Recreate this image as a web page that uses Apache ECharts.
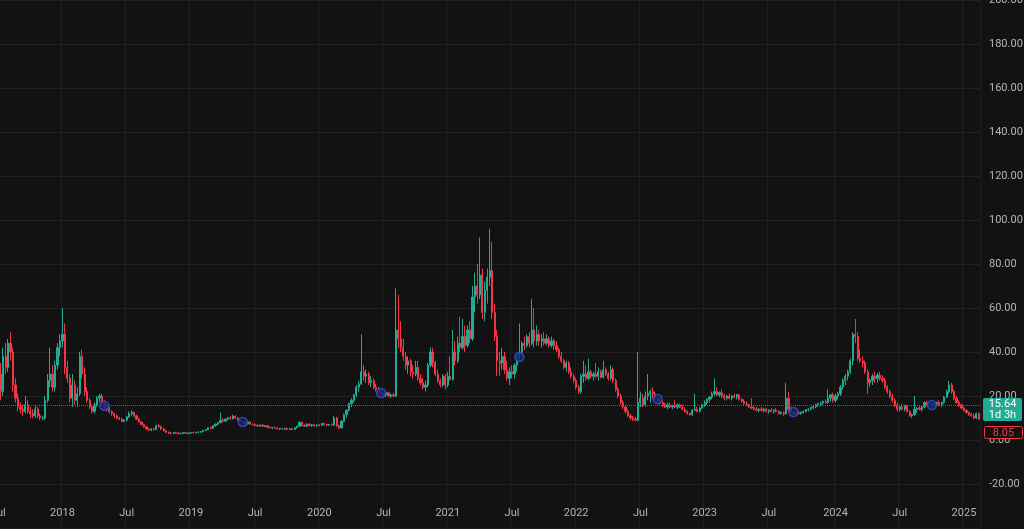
<!DOCTYPE html>
<html><head><meta charset="utf-8">
<script src="https://cdn.jsdelivr.net/npm/echarts/dist/echarts.min.js"></script>
<style>html,body{margin:0;padding:0;background:#121212;overflow:hidden}#c{width:1024px;height:529px}</style>
</head><body><div id="c"></div>
<script>
// ---- data: weekly candles [open, high, low, close], first week starts 2017-07-03 ----
const firstWeek = '2017-07-03';
const xTickLabels = [
  ['2017-07-03','Jul'],['2018-01-01','2018'],['2018-07-02','Jul'],['2018-12-31','2019'],
  ['2019-07-01','Jul'],['2019-12-30','2020'],['2020-06-29','Jul'],['2020-12-28','2021'],
  ['2021-06-28','Jul'],['2021-12-27','2022'],['2022-06-27','Jul'],['2022-12-26','2023'],
  ['2023-06-26','Jul'],['2024-01-01','2024'],['2024-07-01','Jul'],['2024-12-30','2025']
];
const yTicks = {min:-40, max:200, step:20};

const d2017 = [[36,42,28,30],[30,35,18,22],[22,42,20,38],[38,44,30,33],[33,46,31,44],[44,49,36,40],[40,42,22,25],[25,28,17,19],[19,21,13,15],[15,17,12,14],
[14,16,11,13],[13,20,12,16],[16,18,12,13],[13,15,10,12],[12,14,10,11],[11,16,10,14],[14,15,10,11],[11,12,9,10],[10,11,9,10],[10,20,9,18],
[18,30,17,27],[27,42,24,30],[30,34,22,24],[24,36,22,34],[34,44,32,42],[42,48,38,45]];

const d2018 = [[45,60,42,48],[48,53,30,33],[33,36,26,28],[28,30,17,19],[19,30,15,25],[25,27,16,18],[18,24,15,21],[21,40,20,38],[38,41,28,30],[30,33,20,22],
[22,24,17,18],[18,19,14,15],[15,16,12,13],[13,17,12,16],[16,20,15,19],[19,21,17,20],[20,21,16,17],[17,18,14,15],[15,16,13,14],[14,15,12,13],
[13,13.5,11,12],[12,12.5,10,11],[11,11.5,9.5,10],[10,10.5,9,9.5],[9.5,10,8,8.5],[8.5,9.5,8,9],[9,11,8.5,10.5],[10.5,13,10,12],[12,13.5,11,12.5],[12.5,13,10.5,11],
[11,11.5,9,9.5],[9.5,10,8,8.2],[8.2,8.5,6.5,7],[7,7.5,5.5,6],[6,6.5,4.5,5],[5,5.5,4,4.5],[4.5,5.5,4,5],[5,5.5,4.3,4.8],[4.8,7,4.5,6.5],[6.5,7.2,5.5,6],
[6,6.5,4.5,5],[5,5.5,3.8,4.2],[4.2,4.5,3.2,3.5],[3.5,3.8,2.8,3.2],[3.2,3.6,2.6,3],[3,3.6,2.7,3.4],[3.4,3.7,2.8,3.1],[3.1,3.5,2.6,2.9],[2.9,3.3,2.5,3.1],[3.1,3.5,2.7,3.3],
[3.3,3.6,2.8,3],[3,3.4,2.6,3.2]];

const d2019 = [[3.2,3.6,2.9,3.4],[3.4,3.8,3,3.2],[3.2,3.7,3,3.5],[3.5,3.9,3.1,3.6],[3.6,4,3.3,3.8],[3.8,4.6,3.5,4.4],[4.4,5,4,4.8],[4.8,5.8,4.5,5.6],[5.6,6.2,5,5.3],[5.3,6.8,5,6.5],
[6.5,7.5,6,7.2],[7.2,8.2,6.8,8],[8,12.5,7.5,9],[9,10,8,8.6],[8.6,9.8,8.2,9.5],[9.5,10.5,9,10],[10,11,9.2,9.6],[9.6,11.5,9.4,10.8],[10.8,11.2,9.5,10],[10,10.5,8.5,9],
[9,9.5,8,8.4],[8.4,8.8,7.5,8],[8,8.5,7,7.5],[7.5,8.5,7,8.2],[8.2,8.6,6.8,7.2],[7.2,7.6,6.5,7],[7,7.5,6.2,6.6],[6.6,7.2,6,6.4],[6.4,7,6,6.8],[6.8,7.2,6,6.2],
[6.2,6.8,5.8,6.5],[6.5,6.8,5.5,5.8],[5.8,6.2,5.2,5.5],[5.5,6,5,5.7],[5.7,6.2,5.2,5.4],[5.4,5.8,4.8,5],[5,5.5,4.5,5.2],[5.2,5.6,4.6,4.9],[4.9,5.5,4.5,5.3],[5.3,5.6,4.6,4.8],
[4.8,5.4,4.4,5.1],[5.1,5.5,4.6,4.8],[4.8,5.8,4.6,5.6],[5.6,6.5,5.2,6.2],[6.2,8.5,6,8],[8,8.3,6.2,6.6],[6.6,7.2,6,6.3],[6.3,7.5,6,7.2],[7.2,7.6,6.3,6.6],[6.6,7.2,6,6.9],
[6.9,7.4,6.2,6.5],[6.5,7,6,6.8]];

const d2020 = [[6.8,7.3,6.2,6.6],[6.6,7.8,6.4,7.5],[7.5,7.8,6.6,7],[7,7.4,6.4,6.8],[6.8,7.2,6.3,7],[7,7.5,6.5,6.8],[6.8,11,6.5,10],[10,10.5,6,6.5],[6.5,7,5,5.5],[5.5,9,5.2,8.5],
[8.5,12,8,11.5],[11.5,14,10,13.5],[13.5,17,13,16.5],[16.5,19,15,18],[18,21,17,20.5],[20.5,25,19.5,24],[24,27,22,25.5],[25.5,48,25,31],[31,34,27,29],[29,32,26,30],
[30,31,25,26],[26,29,24,27],[27,28,23,24],[24,25.5,22,23],[23,24,21,22],[22,23,20,21],[21,22,19.5,20.5],[20.5,22,19.5,21.5],[21.5,22,19.5,20],[20,21,19,20.5],
[20.5,21.5,19.5,20],[20,69,19.5,50],[50,66,42,46],[46,54,40,42],[42,46,36,38],[38,40,32,34],[34,38,30,36],[36,37,29,31],[31,34,28,30],[30,36,29,33],
[33,36,27,28],[28,30,25,26],[26,28,23,24],[24,27,22,25],[25,35,24,34],[34,42,33,40],[40,42,33,35],[35,36,29,30],[30,32,26,27],[27,28,24,25],
[25,30,24,29],[29,30,23,25]];

const d2021 = [[25,31,24,29],[29,38,27,27.5],[27.5,50,27,40],[40,45,34,36],[36,47,35,44],[44,56,40,42],[42,55,41,47],[47,52,40,43],[43,52,42,50],[50,54,44,46],
[46,70,45,65],[65,76,58,70],[70,80,62,66],[66,92,64,75],[75,78,55,58],[58,72,54,68],[68,78,62,74],[74,96,70,77],[77,90,55,58],[58,62,45,47],
[47,50,29,36],[36,40,29,35],[35,42,32,38],[38,40,30,32],[32,36,27,28],[28,33,25,31],[31,34,28,30],[30,35,28,34],[34,39,31,37],[37,53,36,40],
[40,45,38,44],[44,47,41,43],[43,48,42,47],[47,49,42,44],[44,64,43,50],[50,60,42,45],[45,52,43,48],[48,50,43,45],[45,48,42,46],[46,49,43,44],
[44,48,43,46],[46,47,42,43],[43,47,42,45],[45,46,41,43],[43,45,40,41],[41,42,37,38],[38,40,35,36],[36,37,32,33],[33,36,31,35],[35,36,30,31],
[31,33,28,29],[29,30,26,27]];

const d2022 = [[27,28,23,24],[24,25,21,22],[22,30,21,29],[29,36,26,30],[30,34,27,28],[28,37,27,31],[31,32,28,29],[29,31,27,30],[30,35,28,29],[29,33,27,31],
[31,32,28,28.5],[28.5,36,28,32],[32,33,29,30],[30,31,27,28],[28,34,27,32],[32,33,26,27],[27,28,22,23],[23,24,19,20],[20,21,16,17],[17,18,14,15],
[15,16,12,13],[13,14,10.5,11],[11,12,9,10],[10,11,8.5,9.5],[9.5,10.5,8.5,9],[9,40,8.5,17],[17,22,15,19],[19,21,15,16],[16,22,15,20],[20,30,18,21],
[21,23,17,22],[22,24,19,21],[21,22,18,19],[19,20,17,18],[18,19,16,17],[17,18,15,16],[16,17,14.5,15],[15,17,14,16],[16,17,14.5,15],[15,16,14,15.5],
[15.5,18,14.5,15],[15,16.5,14,16],[16,16.5,14.5,15],[15,16,13.5,14],[14,15,12.5,13],[13,13.5,11.5,12],[12,12.5,11,11.5],[11.5,14,11,13.5],[13.5,21,13,14],[14,15,12.5,13],
[13,15,12.5,14.5],[14.5,16.5,14,16]];

const d2023 = [[16,18,15,17],[17,19,16,18.5],[18.5,20,17,19.5],[19.5,22,18.5,21],[21,28,20,22],[22,24,20,20.5],[20.5,22,19.5,21.5],[21.5,23,19,20],[20,21,18,19],[19,20.5,18,20],
[20,21,18.5,19],[19,20.5,18,20],[20,21,19,19.5],[19.5,21,18.5,20.5],[20.5,21,18,18.5],[18.5,19,17,17.5],[17.5,18.5,16,16.5],[16.5,17.5,15.5,16],[16,16.5,14.5,15],[15,19,14,14.5],
[14.5,15.5,13.5,14],[14,15,13,13.5],[13.5,14.5,12.5,14],[14,15,13,13.5],[13.5,14.5,12.5,14],[14,14.5,12.5,13],[13,14,12,13.5],[13.5,14.5,12.5,13],[13,14,12,13.5],[13.5,14.5,12.5,13],
[13,13.5,11.5,12],[12,13,11.5,12.5],[12.5,13,11,12],[12,26,11.5,19],[19,22,13,14],[14,15,12,12.5],[12.5,13.5,11.5,12],[12,13,11.5,12.5],[12.5,13.5,11.5,12],[12,13,11.5,12.5],
[12.5,13.5,12,13],[13,14,12.5,13.8],[13.8,14.5,13,14],[14,15,13.5,14.8],[14.8,15.5,14,15.2],[15.2,16.5,14.5,16],[16,17,15,16.5],[16.5,17.5,15.5,16.8],[16.8,18,16,17.5],[17.5,18.5,16.5,17],
[17,23,16.5,19],[19,21,17.5,20.5],[20.5,21.5,17,18]];

const d2024 = [[18,21,17,20],[20,22,18.5,21],[21,25,20,24],[24,28,23,27],[27,30,25,29],[29,32,27,31],[31,37,30,36],[36,49,34,48],[48,55,44,47],[47,49,36,37],
[37,41,35,36],[36,38,33,35],[35,36,30,31],[31,32,21,26],[26,28,24,27],[27,30,25,29],[29,31,26,28],[28,30.5,26,29.5],[29.5,31,27,28],[28,29.5,26,27],
[27,28,23,24],[24,25,21,22],[22,23,19,20],[20,21,17,18],[18,19,15,16],[16,17,13,14],[14,16,13,15],[15,16.5,13.5,14],[14,16,13,15.5],[15.5,16,12.5,13],
[13,13.5,10.5,11],[11,12,10,11.5],[11.5,20,11,14],[14,15,12.5,14.5],[14.5,15.5,13.5,14],[14,15.5,13,15],[15,17.5,14.5,17],[17,18,15.5,16],[16,17,15,16.5],[16.5,17,15,15.5],
[15.5,17,15,16.5],[16.5,17.5,15.5,17],[17,18,15.5,16],[16,17.5,15,17],[17,20,16.5,19.5],[19.5,23,19,22],[22,27,21,25],[25,26,21,22],[22,23,18,19],[19,20,16.5,17],
[17,18,15,16],[16,16.5,14,14.5]];

const d2025 = [[14.5,15,13,13.5],[13.5,14,12,12.5],[12.5,13,11,11.5],[11.5,12.5,10.5,11],[11,12,9.5,10],[10,12.5,9.5,12],[12,12.5,9,9.5]];

// dividend-style markers: week index and value
const markerWeek = [43, 99, 155, 211, 267, 322, 378];
const markerValue = [15.6, 8.2, 21.4, 37.7, 18.6, 12.7, 15.9];

const lastPrice = 15.64;
const countdownText = '1d 3h';
const secondPrice = 8.05;

// ---- build ----
const ohlc = [].concat(d2017, d2018, d2019, d2020, d2021, d2022, d2023, d2024, d2025);
const cats = [];
const t0 = Date.parse(firstWeek + 'T00:00:00Z');
for (let i = 0; i < ohlc.length; i++) {
  cats.push(new Date(t0 + i * 7 * 86400000).toISOString().slice(0, 10));
}
const labelMap = {};
xTickLabels.forEach(p => { labelMap[p[0]] = p[1]; });
const candleData = ohlc.map(r => [r[0], r[3], r[2], r[1]]);
const markerData = markerWeek.map((w, k) => [cats[w], markerValue[k]]);

const UP = '#22ab94', DOWN = '#f23645';
const GRID = '#202020', TXT = '#b4b4b4';
const FONT = 'Roboto, "Liberation Sans", sans-serif';

const chart = echarts.init(document.getElementById('c'), null, {renderer: 'canvas'});
chart.setOption({
  backgroundColor: '#121212',
  animation: false,
  grid: {left: -3, right: 44, top: 0, bottom: 1, containLabel: false, outerBoundsMode: 'none'},
  xAxis: {
    type: 'category', data: cats, boundaryGap: true,
    axisLine: {show: false}, axisTick: {show: false},
    axisLabel: {
      inside: true, margin: 9, color: TXT, fontSize: 11, fontFamily: FONT,
      interval: (i, v) => labelMap[v] !== undefined,
      formatter: v => labelMap[v] || ''
    },
    splitLine: {show: true, interval: (i, v) => labelMap[v] !== undefined, lineStyle: {color: GRID, width: 1}}
  },
  yAxis: {
    type: 'value', position: 'right', min: yTicks.min, max: yTicks.max, interval: yTicks.step,
    axisLine: {show: false}, axisTick: {show: false},
    axisLabel: {margin: 9, color: TXT, fontSize: 11, fontFamily: FONT, showMinLabel: false,
      formatter: v => v.toFixed(2)},
    splitLine: {show: true, lineStyle: {color: GRID, width: 1}}
  },
  series: [
    {
      type: 'candlestick', data: candleData, barWidth: '68%',
      itemStyle: {color: UP, color0: DOWN, borderColor: UP, borderColor0: DOWN, borderWidth: 1},
      markLine: {
        symbol: 'none', silent: true, animation: false,
        data: [{yAxis: lastPrice}],
        lineStyle: {color: '#2b7d70', type: 'dotted', width: 1},
        label: {show: false}
      }
    },
    {
      type: 'scatter', data: markerData, symbol: 'circle', symbolSize: 9, z: 5,
      itemStyle: {color: '#142466', borderColor: '#2d55d6', borderWidth: 1.5}
    }
  ]
});

const yLast = chart.convertToPixel({yAxisIndex: 0}, lastPrice);
const gTop = Math.round(yLast - 8);
const gH = 23;
const rTop = gTop + gH + 5;
chart.setOption({
  graphic: [
    {type: 'rect', z: 100, shape: {x: 983, y: gTop, width: 39, height: gH, r: 2}, style: {fill: UP}},
    {type: 'text', z: 101, x: 1002.5, y: gTop + 6, style: {text: lastPrice.toFixed(2), fill: '#ffffff', font: '11px ' + FONT, align: 'center', verticalAlign: 'middle'}},
    {type: 'text', z: 101, x: 1002.5, y: gTop + 17, style: {text: countdownText, fill: '#ffffff', font: '11px ' + FONT, align: 'center', verticalAlign: 'middle'}},
    {type: 'rect', z: 100, shape: {x: 984.5, y: rTop + 0.5, width: 38, height: 12, r: 2}, style: {fill: '#121212', stroke: DOWN, lineWidth: 1}},
    {type: 'text', z: 101, x: 1003.5, y: rTop + 7, style: {text: secondPrice.toFixed(2), fill: DOWN, font: '11px ' + FONT, align: 'center', verticalAlign: 'middle'}}
  ]
});
</script>
</body></html>
